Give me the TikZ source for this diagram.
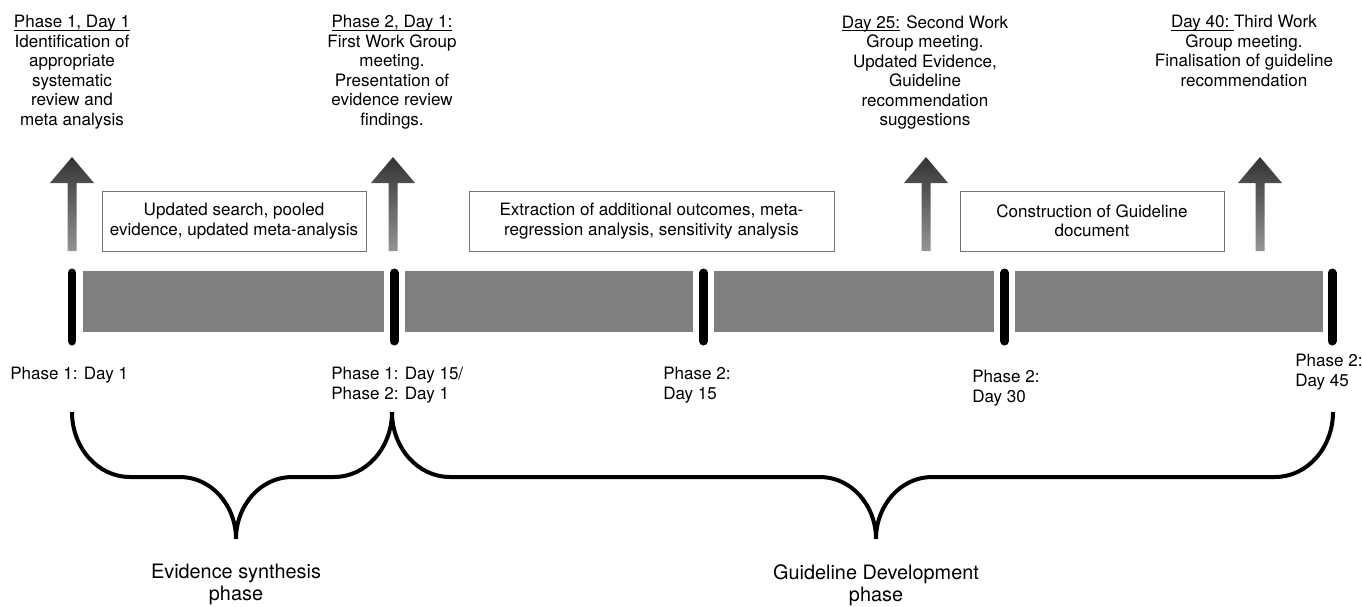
\documentclass[tikz,border=0pt]{standalone}
\usepackage{fontspec}
\setmainfont{TeX Gyre Heros}
\usepackage{xcolor}

% underline that sits close under the baseline
\newcommand{\ulday}[1]{\setbox0\hbox{#1}\rlap{\rule[-1.6pt]{\wd0}{0.45pt}}#1}

\begin{document}
\begin{tikzpicture}[x=0.02cm, y=-0.02cm,
        every node/.style={font=\fontsize{9.7}{11.1}\selectfont, inner sep=0pt},
        toptext/.style={align=center, anchor=north},
        phasetext/.style={align=center, anchor=north, font=\fontsize{11.3}{12.6}\selectfont},
        daylabel/.style={align=left, anchor=north west},
        stagebox/.style={draw=black!55, line width=0.5pt, align=center, minimum height=1.2cm},
        daybar/.style={fill=black!50},
        daytick/.style={line width=0.18cm, line cap=round},
        phasebrace/.style={line width=0.08cm},
        uparrow/.style={top color=black!80, bottom color=black!42, draw=none}]
        \useasboundingbox (0,0) rectangle (1362,606);

        % what happens at each milestone
        \node[toptext] (ev1) at (72,15) {\ulday{Phase 1, Day 1}\\Identification of\\appropriate\\systematic\\review and\\meta analysis};
        \node[toptext] (ev2) at (392,15) {\ulday{Phase 2, Day 1:}\\First Work Group\\meeting.\\Presentation of\\evidence review\\findings.};
        \node[toptext] (ev3) at (925,15) {\ulday{Day 25:} Second Work\\Group meeting.\\Updated Evidence,\\Guideline\\recommendation\\suggestions};
        \node[toptext] (ev4) at (1244,15) {\ulday{Day 40:\ }Third Work\\Group meeting.\\Finalisation of guideline\\recommendation};

        % arrows up to the milestones
        \shade[uparrow, shift={(72,0)}] (-4.5,251) -- (-4.5,183) -- (-22,183) -- (0,157) -- (22,183) -- (4.5,183) -- (4.5,251) -- cycle;
        \shade[uparrow, shift={(393,0)}] (-4.5,251) -- (-4.5,183) -- (-22,183) -- (0,157) -- (22,183) -- (4.5,183) -- (4.5,251) -- cycle;
        \shade[uparrow, shift={(926,0)}] (-4.5,251) -- (-4.5,183) -- (-22,183) -- (0,157) -- (22,183) -- (4.5,183) -- (4.5,251) -- cycle;
        \shade[uparrow, shift={(1260,0)}] (-4.5,251) -- (-4.5,183) -- (-22,183) -- (0,157) -- (22,183) -- (4.5,183) -- (4.5,251) -- cycle;

        % work between milestones
        \node[stagebox, minimum width=5.28cm] (s1) at (234,221) {Updated search, pooled\\evidence, updated meta-analysis};
        \node[stagebox, minimum width=7.3cm] (s2) at (651.5,221) {Extraction of additional outcomes, meta-\\regression analysis, sensitivity analysis};
        \node[stagebox, minimum width=5.28cm] (s3) at (1092,221) {Construction of Guideline\\document};

        % timeline
        \fill[daybar] (83,271) rectangle (384,332);
        \fill[daybar] (405,271) rectangle (693,332);
        \fill[daybar] (714,271) rectangle (994,332);
        \fill[daybar] (1015,271) rectangle (1323,332);

        \draw[daytick] (72,273) -- (72,341);
        \draw[daytick] (394,273) -- (394,341);
        \draw[daytick] (703.5,273) -- (703.5,341);
        \draw[daytick] (1004.5,273) -- (1004.5,341);
        \draw[daytick] (1332,273) -- (1332,341);

        \node[daylabel] (d1) at (10,367) {Phase 1: Day 1};
        \node[daylabel] (d2) at (331,367) {Phase 1: Day 15/\\Phase 2: Day 1};
        \node[daylabel] (d3) at (663,367) {Phase 2:\\Day 15};
        \node[daylabel] (d4) at (972,370) {Phase 2:\\Day 30};
        \node[daylabel] (d5) at (1295,354) {Phase 2:\\Day 45};

        % braces for the two phases
        \draw[phasebrace] (72,412) .. controls (72,448) and (98,477) .. (130,477) -- (180,477)
            .. controls (211,477) and (236,505) .. (236,539)
            .. controls (236,505) and (261,477) .. (292,477) -- (334,477)
            .. controls (366,477) and (392,448) .. (392,412);
        \draw[phasebrace] (392,412) .. controls (392,448) and (418,477) .. (450,477) -- (820,477)
            .. controls (851,477) and (876,505) .. (876,539)
            .. controls (876,505) and (901,477) .. (932,477) -- (1275,477)
            .. controls (1307,477) and (1333,448) .. (1333,412);

        \node[phasetext] (ph1) at (236,564) {Evidence synthesis\\phase};
        \node[phasetext] (ph2) at (876,564) {Guideline Development\\phase};

      \end{tikzpicture}
\end{document}
